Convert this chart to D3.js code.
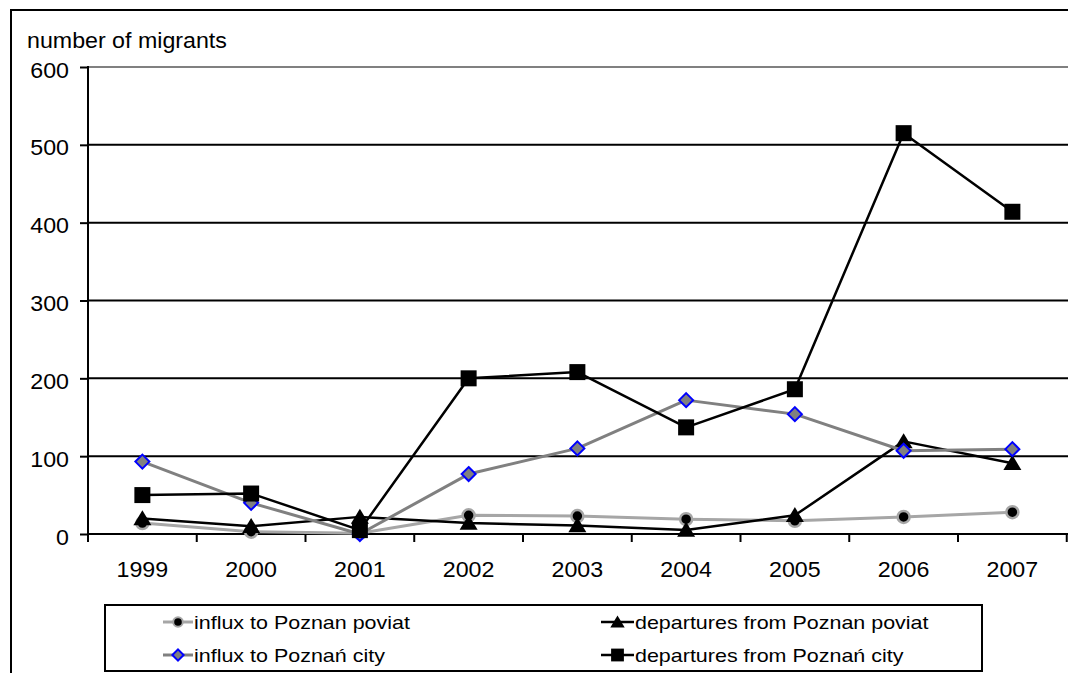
<!DOCTYPE html>
<html>
<head>
<meta charset="utf-8">
<script src="https://cdn.jsdelivr.net/npm/d3@7"></script>
<style>
  html, body { margin: 0; padding: 0; background: #fff; }
  svg { display: block; font-family: "Liberation Sans", Arial, sans-serif; }
</style>
</head>
<body>
<svg id="chart" width="1068" height="673"></svg>
<script>
// Migration to and from Poznań, 1999–2007
const years = ["1999", "2000", "2001", "2002", "2003", "2004", "2005", "2006", "2007"];
const influxPoviat     = [14, 3, 1, 24, 23, 19, 17, 22, 28];
const departuresPoviat = [20, 10, 22, 14, 11, 5, 24, 119, 91];
const influxCity       = [93, 40, 0, 77, 110, 172, 154, 107, 109];
const departuresCity   = [50, 52, 5, 200, 208, 137, 186, 515, 414];
const yTicks = [0, 100, 200, 300, 400, 500, 600];
const yTitle = "number of migrants";

const series = [
  { name: "influx to Poznan poviat",       values: influxPoviat,     marker: "circle",   line: "#a6a6a6", width: 3 },
  { name: "departures from Poznan poviat", values: departuresPoviat, marker: "triangle", line: "#000",    width: 2.5 },
  { name: "influx to Poznań city",         values: influxCity,       marker: "diamond",  line: "#808080", width: 3 },
  { name: "departures from Poznań city",   values: departuresCity,   marker: "square",   line: "#000",    width: 2.5 }
];

const svg = d3.select("#chart");
const SX = 1.08;       // horizontal stretch of the lettering
const FS = 21.5;

const plot = { left: 88, top: 67, bottom: 534, right: 88 + 9 * 108.75 };

const x = d3.scaleBand().domain(years).range([plot.left, plot.right]);
const y = d3.scaleLinear().domain([0, 600]).range([plot.bottom, plot.top]);

// outer frame (left and top edges fall inside the page)
svg.append("line").attr("x1", 11).attr("x2", 11).attr("y1", 9).attr("y2", 673)
  .attr("stroke", "#000").attr("stroke-width", 2);
svg.append("line").attr("x1", 10).attr("x2", 1068).attr("y1", 10).attr("y2", 10)
  .attr("stroke", "#000").attr("stroke-width", 2);

function stretchedText(g, txt, tx, ty, anchor, size, sx) {
  return g.append("text")
    .attr("transform", `translate(${tx},${ty}) scale(${sx || SX},1)`)
    .attr("text-anchor", anchor)
    .attr("font-size", size)
    .attr("font-family", "'Liberation Sans', Arial, sans-serif")
    .attr("fill", "#000")
    .text(txt);
}

// y axis title
stretchedText(svg, yTitle, 27, 48, "start", FS);

// horizontal grid lines
svg.append("g").selectAll("line").data(yTicks.filter(d => d > 0))
  .join("line")
  .attr("x1", plot.left).attr("x2", 1068)
  .attr("y1", d => y(d)).attr("y2", d => y(d))
  .attr("stroke", d => d === 600 ? "#808080" : "#000")
  .attr("stroke-width", 2);

// y axis
const yAxis = svg.append("g").attr("transform", `translate(${plot.left},0)`)
  .call(d3.axisLeft(y).tickValues(yTicks).tickSize(8).tickPadding(0));
yAxis.select(".domain").remove();
yAxis.append("line").attr("x1", 0).attr("x2", 0).attr("y1", y(600) - 1).attr("y2", y(0) + 1)
  .attr("stroke", "#000").attr("stroke-width", 2);
yAxis.selectAll(".tick line").attr("stroke", "#000").attr("stroke-width", 2);
yAxis.selectAll(".tick text").remove();
yAxis.selectAll(".tick").each(function (d) {
  stretchedText(d3.select(this), d, -19, 10, "end", FS);
});

// x axis with ticks at the category boundaries
const xAxisG = svg.append("g");
xAxisG.append("line").attr("x1", plot.left - 1).attr("x2", 1068)
  .attr("y1", y(0)).attr("y2", y(0)).attr("stroke", "#000").attr("stroke-width", 2);
const edges = years.map(d => x(d)).concat([x(years[years.length - 1]) + x.bandwidth()]);
xAxisG.selectAll("line.tk").data(edges).join("line").attr("class", "tk")
  .attr("x1", d => d).attr("x2", d => d)
  .attr("y1", y(0)).attr("y2", y(0) + 8)
  .attr("stroke", "#000").attr("stroke-width", 2);
years.forEach(yr => {
  stretchedText(xAxisG, yr, x(yr) + x.bandwidth() / 2, 577, "middle", FS);
});

const cx = d => x(d) + x.bandwidth() / 2;

function drawMarker(g, kind, px, py, s) {
  if (kind === "circle") {
    g.append("circle").attr("cx", px).attr("cy", py).attr("r", 6 * s)
      .attr("fill", "#000").attr("stroke", "#a6a6a6").attr("stroke-width", 2.5 * s);
  } else if (kind === "triangle") {
    const w = 9 * s, h = 15 * s;
    g.append("path")
      .attr("d", `M${px},${py - h * 0.55} L${px + w},${py + h * 0.45} L${px - w},${py + h * 0.45} Z`)
      .attr("fill", "#000");
  } else if (kind === "diamond") {
    const r = 7 * s;
    g.append("path")
      .attr("d", `M${px},${py - r} L${px + r},${py} L${px},${py + r} L${px - r},${py} Z`)
      .attr("fill", "#808080").attr("stroke", "#0000ff").attr("stroke-width", 2);
  } else {
    const h = 8 * s;
    g.append("rect").attr("x", px - h).attr("y", py - h).attr("width", 2 * h).attr("height", 2 * h)
      .attr("fill", "#000");
  }
}

// series lines and markers
series.forEach(sr => {
  const g = svg.append("g");
  const line = d3.line().x((d, i) => cx(years[i])).y(d => y(d));
  g.append("path").datum(sr.values).attr("d", line)
    .attr("fill", "none").attr("stroke", sr.line).attr("stroke-width", sr.width)
    .attr("stroke-linejoin", "round");
  sr.values.forEach((v, i) => drawMarker(g, sr.marker, cx(years[i]), y(v), 1));
});

// legend
const lg = svg.append("g");
lg.append("rect").attr("x", 105).attr("y", 605).attr("width", 877).attr("height", 66)
  .attr("fill", "#fff").attr("stroke", "#000").attr("stroke-width", 2);
const legendPos = [
  { x0: 163, x1: 193, ty: 622 },
  { x0: 601, x1: 634, ty: 622 },
  { x0: 163, x1: 193, ty: 655 },
  { x0: 601, x1: 634, ty: 655 }
];
series.forEach((sr, i) => {
  const p = legendPos[i];
  lg.append("line").attr("x1", p.x0).attr("x2", p.x1).attr("y1", p.ty).attr("y2", p.ty)
    .attr("stroke", sr.line).attr("stroke-width", sr.width);
  drawMarker(lg, sr.marker, (p.x0 + p.x1) / 2, p.ty, 0.8);
  stretchedText(lg, sr.name, p.x1 + 1, p.ty + 6.5, "start", 19, 1.13);
});
</script>
</body>
</html>
